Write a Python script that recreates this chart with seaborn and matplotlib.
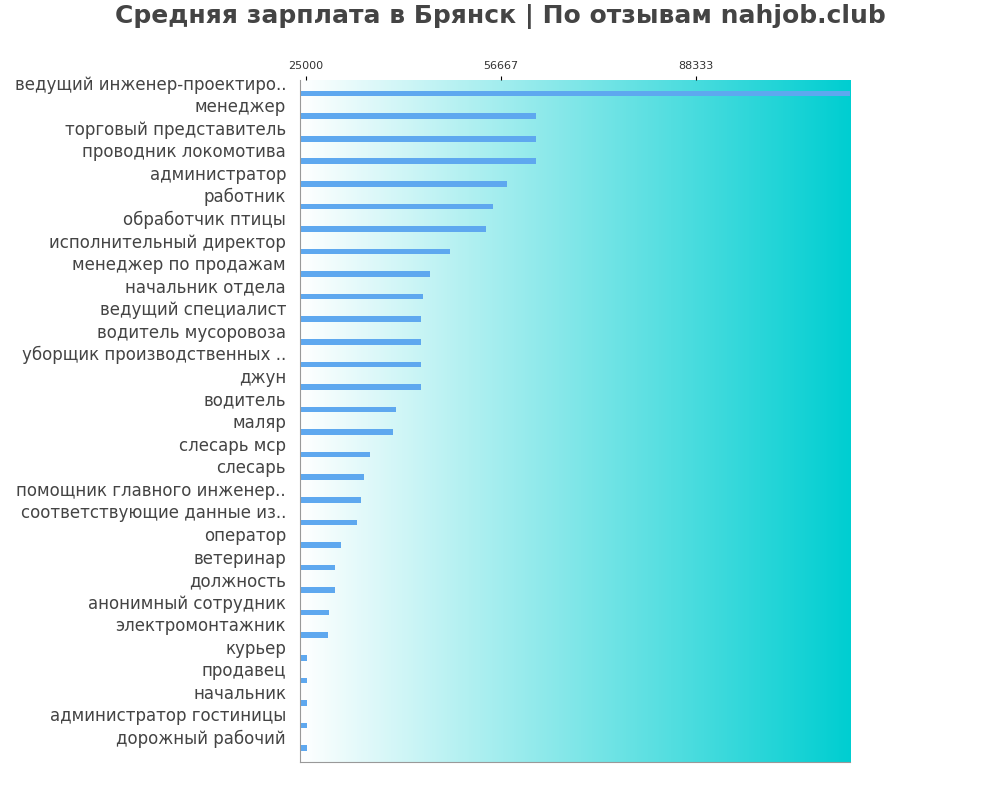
import matplotlib
matplotlib.use("Agg")
import matplotlib.pyplot as plt
import seaborn as sns
import numpy as np
import pandas as pd
from matplotlib.colors import LinearSegmentedColormap

title = "Средняя зарплата в Брянск | По отзывам nahjob.club"
jobs = ["ведущий инженер-проектиро..", "менеджер", "торговый представитель", "проводник локомотива",
        "администратор", "работник", "обработчик птицы", "исполнительный директор",
        "менеджер по продажам", "начальник отдела", "ведущий специалист", "водитель мусоровоза",
        "уборщик производственных ..", "джун", "водитель", "маляр", "слесарь мср", "слесарь",
        "помощник главного инженер..", "соответствующие данные из..", "оператор", "ветеринар",
        "должность", "анонимный сотрудник", "электромонтажник", "курьер", "продавец",
        "начальник", "администратор гостиницы", "дорожный рабочий"]
salaries = [115000, 62300, 62300, 62300, 57600, 55400, 54200, 48400, 45100, 44000, 43700, 43700,
            43700, 43700, 39600, 39100, 35400, 34400, 33900, 33300, 30700, 29700, 29700, 28700,
            28600, 25200, 25200, 25200, 25200, 25200]
ticks = [25000, 56667, 88333]

df = pd.DataFrame({"job": jobs, "salary": salaries})
fig = plt.figure(figsize=(10, 8), dpi=100)
ax = fig.add_axes([0.30, 0.048, 0.55, 0.852])
xmin, xmax = 24000, 113300
cmap = LinearSegmentedColormap.from_list("g", ["#ffffff", "#00ced1"])
grad = np.linspace(0, 1, 256).reshape(1, -1)
ax.imshow(grad, aspect="auto", cmap=cmap, extent=[xmin, xmax, len(jobs) - 0.4, -0.6], zorder=0)
sns.barplot(data=df, x="salary", y="job", orient="h", color="#5ea8ef", width=0.25,
            saturation=1, ax=ax, zorder=2)
ax.set_xlim(xmin, xmax)
ax.set_ylim(len(jobs) - 0.4, -0.6)
ax.xaxis.tick_top()
ax.set_xticks(ticks)
ax.set_xticklabels([str(t) for t in ticks], fontsize=8, color="#333333")
ax.tick_params(axis="y", labelsize=12, colors="#444444", length=0, pad=10)
ax.tick_params(axis="x", length=3)
for lab in ax.get_yticklabels():
    lab.set_verticalalignment("bottom")
ax.set_xlabel("")
ax.set_ylabel("")
for s in ["top", "right"]:
    ax.spines[s].set_visible(False)
ax.spines["left"].set_color("#999999")
ax.spines["bottom"].set_color("#999999")
fig.suptitle(title, fontsize=18, fontweight="bold", color="#444444", y=0.995)
fig.savefig("out.png", dpi=100)
